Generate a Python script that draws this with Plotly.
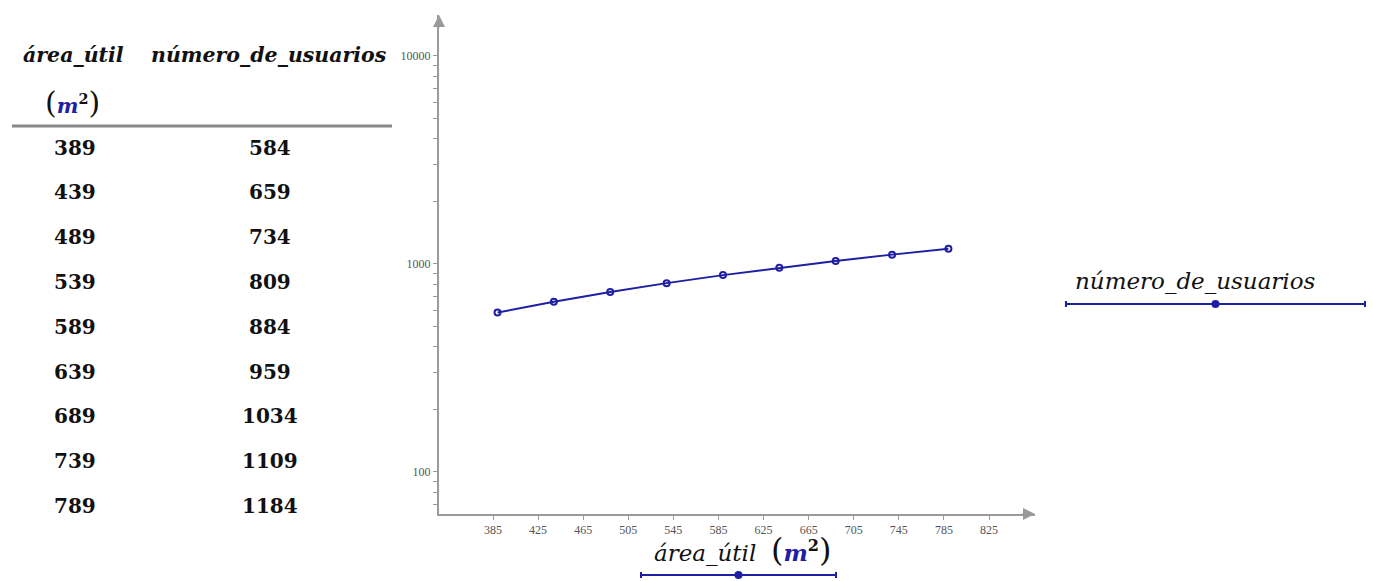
import plotly.graph_objects as go

# ---- data ----
area_util = [389, 439, 489, 539, 589, 639, 689, 739, 789]
numero_de_usuarios = [584, 659, 734, 809, 884, 959, 1034, 1109, 1184]
x_ticks = [385, 425, 465, 505, 545, 585, 625, 665, 705, 745, 785, 825]
y_ticks = [100, 1000, 10000]
y_minor = [m * 10 ** e for e in (1, 2, 3, 4) for m in range(2, 10)]

W, H = 1373, 581
BLUE = "#1f1fa3"
GREY = "#9a9a9a"
SERIF = "DejaVu Serif"


def px(x):
    return x / W


def py(y):
    return 1 - y / H


fig = go.Figure()
fig.add_trace(go.Scatter(
    x=area_util, y=numero_de_usuarios, mode="lines+markers",
    line=dict(color=BLUE, width=2),
    marker=dict(symbol="circle-open", size=6, color=BLUE, line=dict(width=2)),
    showlegend=False, hoverinfo="x+y",
))

x0p, x1p = 439, 1035
y0p, y1p = 514, 15
fig.update_layout(
    width=W, height=H, autosize=False,
    margin=dict(l=0, r=0, t=0, b=0),
    paper_bgcolor="white", plot_bgcolor="white",
    xaxis=dict(
        domain=[px(x0p), px(x1p)], range=[337.1, 865.8],
        tickvals=x_ticks, ticktext=[str(v) for v in x_ticks],
        ticks="outside", ticklen=4, tickwidth=1, tickcolor=GREY,
        showline=True, linecolor=GREY, linewidth=2,
        showgrid=False, zeroline=False,
        tickfont=dict(family="Liberation Serif", size=12, color="#555"),
    ),
    yaxis=dict(
        domain=[py(y0p), py(y1p)], type="log", range=[1.798, 4.197],
        tickvals=y_ticks, ticktext=[str(v) for v in y_ticks],
        ticks="outside", ticklen=4, tickwidth=1, tickcolor=GREY,
        minor=dict(tickvals=y_minor, ticks="outside", ticklen=4, tickcolor=GREY, showgrid=False),
        showline=True, linecolor=GREY, linewidth=2,
        showgrid=False, zeroline=False,
        tickfont=dict(family="Liberation Serif", size=12, color="#555"),
    ),
)

ann = []
# axis arrows
ann.append(dict(xref="x domain", yref="y domain", x=1.0, y=0, ax=-14, ay=0,
                showarrow=True, arrowhead=2, arrowsize=1.2, arrowwidth=2, arrowcolor=GREY, text=""))
ann.append(dict(xref="x domain", yref="y domain", x=0, y=1.0, ax=0, ay=14,
                showarrow=True, arrowhead=2, arrowsize=1.2, arrowwidth=2, arrowcolor=GREY, text=""))


def m2(big):
    return ("<span style='font-size:%dpx'>(</span><b><i><span style='color:%s'>m</span></i></b>"
            "<sup><b>2</b></sup><span style='font-size:%dpx'>)</span>" % (big, BLUE, big))


def txt(x, y, text, size=19):
    return dict(xref="paper", yref="paper", x=px(x), y=py(y), text=text,
                xanchor="center", yanchor="middle", showarrow=False,
                font=dict(family=SERIF, size=size, color="#111"))


# table header
ann.append(txt(73, 55, "<b><i>área_útil</i></b>", 20.5))
ann.append(txt(269, 55, "<b><i>número_de_usuarios</i></b>", 20.5))
ann.append(txt(72, 102, m2(30), 20.5))

row_y = [148, 192, 237, 282, 327, 372, 416, 461, 506]
for i, (a, n) in enumerate(zip(area_util, numero_de_usuarios)):
    ann.append(txt(75, row_y[i], "<b>%d</b>" % a, 20))
    ann.append(txt(270, row_y[i], "<b>%d</b>" % n, 20))

# axis labels / legends
ann.append(txt(1195, 281, "<i>número_de_usuarios</i>", 23))
ann.append(txt(742, 550, "<i>área_útil</i>  " + m2(32), 23))
fig.update_layout(annotations=ann)

shapes = []
shapes.append(dict(type="line", xref="paper", yref="paper", x0=px(12), x1=px(392), y0=py(126), y1=py(126),
                   line=dict(color="#888", width=3)))


def legend_line(xa, xb, yy):
    out = [dict(type="line", xref="paper", yref="paper", x0=px(xa), x1=px(xb), y0=py(yy), y1=py(yy),
                line=dict(color=BLUE, width=2))]
    for xe in (xa, xb):
        out.append(dict(type="line", xref="paper", yref="paper", x0=px(xe), x1=px(xe),
                        y0=py(yy - 3), y1=py(yy + 3), line=dict(color=BLUE, width=2)))
    xm = (xa + xb) / 2
    out.append(dict(type="circle", xref="paper", yref="paper", x0=px(xm - 3), x1=px(xm + 3),
                    y0=py(yy - 3), y1=py(yy + 3), line=dict(color=BLUE, width=2), fillcolor=BLUE))
    return out


shapes += legend_line(1066, 1365, 304)
shapes += legend_line(641, 836, 575)
fig.update_layout(shapes=shapes)

fig.write_html("out.html", config={"displayModeBar": False},
               post_script="document.body.style.margin='0';document.body.style.overflow='hidden';")
